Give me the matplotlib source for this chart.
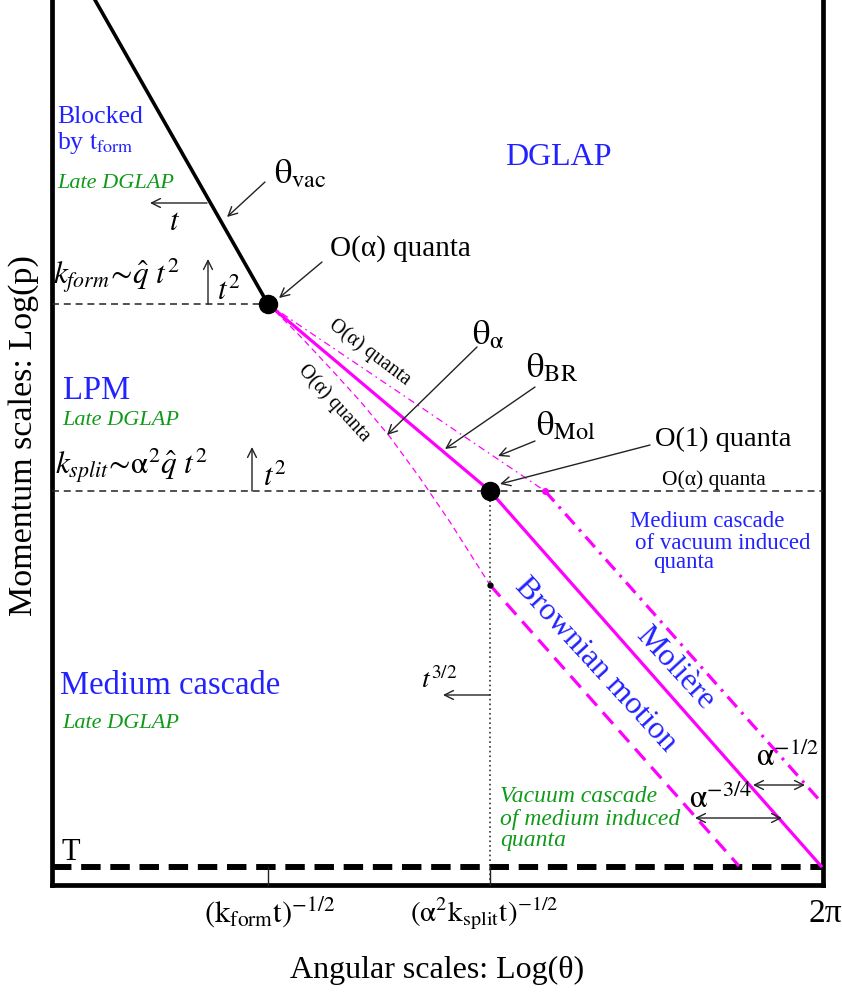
import matplotlib
matplotlib.use('Agg')
import matplotlib.pyplot as plt

plt.rcParams['font.family'] = ['Liberation Serif', 'DejaVu Serif']
plt.rcParams['mathtext.fontset'] = 'stix'
plt.rcParams['lines.scale_dashes'] = False

# ---------------- schematic geometry (pixel-like diagram units) ----------------
W, H = 842, 992
frame_left_x = 52
frame_right_x = 823
frame_bottom_y = 885
k_form_y = 304
k_split_y = 491
T_y = 867
theta_form_x = 268
theta_split_x = 490

vac_x = [95, 268]
vac_y = [0, 304]
br_x = [268, 490, 821]
br_y = [304, 491, 866]
alpha_thin_x = [268, 300, 330, 360, 390, 420, 450, 490]
alpha_thin_y = [304, 336, 368, 401, 437, 478, 522, 585]
alpha_thick_x = [490, 739]
alpha_thick_y = [585, 866]
mol_thin_x = [268, 545]
mol_thin_y = [304, 491]
mol_thick_x = [545, 822]
mol_thick_y = [491, 803]

tick_x = [270, 484, 825]
tick_labels = [r'$(\mathrm{k}_{\mathrm{form}}\mathrm{t})^{\mathrm{-1/2}}$',
               r'$(\mathrm{α}^{2}\mathrm{k}_{\mathrm{split}}\mathrm{t})^{\mathrm{-1/2}}$',
               '2π']
tick_sizes = [22, 21, 24]

MAG = '#ff00ff'
BLUE = '#2222ff'
GREEN = '#119a1a'
DK = '#222222'

fig = plt.figure(figsize=(8.42, 9.92), dpi=100)
ax = fig.add_axes([0, 0, 1, 1])
ax.set_xlim(0, W)
ax.set_ylim(H, 0)
ax.axis('off')

# frame
ax.plot([frame_left_x, frame_left_x], [0, frame_bottom_y], color='black', lw=3.4, solid_capstyle='projecting')
ax.plot([frame_right_x, frame_right_x], [0, frame_bottom_y], color='black', lw=3.4, solid_capstyle='projecting')
ax.plot([frame_left_x, frame_right_x], [frame_bottom_y, frame_bottom_y], color='black', lw=3.4, solid_capstyle='projecting')

# horizontal scale lines
ax.plot([frame_left_x, theta_form_x], [k_form_y, k_form_y], color=DK, lw=1.1, dashes=(5, 3.5))
ax.plot([frame_left_x, frame_right_x], [k_split_y, k_split_y], color=DK, lw=1.1, dashes=(5, 3.5))
ax.plot([frame_left_x, frame_right_x], [T_y, T_y], color='black', lw=4.3, dashes=(14, 7), solid_capstyle='butt')

# vertical dotted and ticks
ax.plot([theta_split_x, theta_split_x], [k_split_y, frame_bottom_y], color=DK, lw=1.1, dashes=(1.2, 2.2))
for tx in [theta_form_x, theta_split_x]:
    ax.plot([tx, tx], [T_y, frame_bottom_y], color=DK, lw=1.0)

# theta_vac line
ax.plot(vac_x, vac_y, color='black', lw=2.6)
# magenta lines
ax.plot(alpha_thin_x, alpha_thin_y, color=MAG, lw=0.9, dashes=(4.5, 3))
ax.plot(mol_thin_x, mol_thin_y, color=MAG, lw=0.9, dashes=(5, 3, 1.2, 3))
ax.plot(br_x, br_y, color=MAG, lw=2.3)
ax.plot(alpha_thick_x, alpha_thick_y, color=MAG, lw=2.3, dashes=(11, 6.5))
ax.plot(mol_thick_x, mol_thick_y, color=MAG, lw=2.3, dashes=(10, 5, 2, 5))

# dots
ax.plot([theta_form_x, theta_split_x], [k_form_y, k_split_y], 'o', color='black', ms=13)
ax.plot([alpha_thick_x[0]], [alpha_thick_y[0]], 'o', color='black', ms=3.5)
ax.plot([mol_thick_x[0]], [mol_thick_y[0]], 'o', color=MAG, ms=4)


def arrow(tail, tip, style='->'):
    ax.annotate('', xy=tip, xytext=tail,
                arrowprops=dict(arrowstyle=style, lw=1.0, color=DK,
                                mutation_scale=16, shrinkA=0, shrinkB=0))


def txt(x, y, s, size, color='black', style='normal', **kw):
    ax.text(x, y, s, fontsize=size, color=color, fontstyle=style,
            ha=kw.pop('ha', 'left'), va=kw.pop('va', 'baseline'), **kw)


# arrows
arrow((207, 203), (150, 203))
arrow((265, 182), (227, 217))
arrow((208, 304), (208, 259))
arrow((322, 262), (279, 298))
arrow((477, 347), (387, 435))
arrow((535, 387), (445, 449))
arrow((535, 441), (498, 456))
arrow((650, 445), (500, 484))
arrow((252, 491), (252, 447))
arrow((490, 695), (443, 695))
arrow((753, 785), (805, 785), '<->')
arrow((695, 818), (782, 818), '<->')

# region labels
txt(57, 123, 'Blocked', 18.5, BLUE)
txt(57, 149, r'by $\mathrm{t}_{\mathrm{form}}$', 18.5, BLUE)
txt(57, 188, 'Late DGLAP', 16, GREEN, 'italic')
txt(505, 165, 'DGLAP', 23, BLUE)
txt(63, 399, 'LPM', 23.5, BLUE)
txt(62, 425, 'Late DGLAP', 16, GREEN, 'italic')
txt(60, 694, 'Medium cascade', 23.5, BLUE)
txt(62, 728, 'Late DGLAP', 16, GREEN, 'italic')
txt(62, 860, 'T', 22)

# scale labels
txt(53, 285, r'$k_{form}\!\sim\!\hat{q}\ t^{2}$', 22.5)
txt(217, 300, r'$t^{2}$', 22)
txt(175, 230, r'$t$', 22, ha='center')
txt(55, 475, r'$k_{split}\!\sim\!\mathrm{α}^{2}\hat{q}\ t^{2}$', 22.5)
txt(263, 486, r'$t^{2}$', 22)
txt(421, 688, r'$t^{3/2}$', 20)

# theta labels
txt(274, 183, r'$\mathrm{θ}_{\mathrm{vac}}$', 25)
txt(330, 256, 'O(α) quanta', 21)
txt(472, 344, r'$\mathrm{θ}_{\mathrm{α}}$', 25)
txt(526, 377, r'$\mathrm{θ}_{\mathrm{BR}}$', 25)
txt(536, 435, r'$\mathrm{θ}_{\mathrm{Mol}}$', 25)
txt(655, 446, 'O(1) quanta', 20.5)
txt(662, 485, 'O(α) quanta', 15.5)

# rotated small labels
ax.text(370, 352, 'O(α) quanta', fontsize=14.5, rotation=-37, ha='center', va='center',
        rotation_mode='anchor')
ax.text(334, 403, 'O(α) quanta', fontsize=14.5, rotation=-47.5, ha='center', va='center',
        rotation_mode='anchor')

# medium cascade of vacuum induced quanta
txt(630, 527, 'Medium cascade', 16.5, BLUE)
txt(635, 549, 'of vacuum induced', 16.5, BLUE)
txt(653, 568, 'quanta', 16.5, BLUE)

# along-line labels
ax.text(595, 665, 'Brownian motion', fontsize=23, color=BLUE, rotation=-47.5,
        ha='center', va='center', rotation_mode='anchor')
ax.text(675, 668, 'Molière', fontsize=23, color=BLUE, rotation=-47.5,
        ha='center', va='center', rotation_mode='anchor')

# alpha powers
txt(756, 766, r'$\mathrm{α}^{-1/2}$', 23)
txt(689, 808, r'$\mathrm{α}^{-3/4}$', 23)

# vacuum cascade of medium induced quanta
txt(500, 802, 'Vacuum cascade', 17, GREEN, 'italic')
txt(500, 825, 'of medium induced', 17, GREEN, 'italic')
txt(500, 846, 'quanta', 17, GREEN, 'italic')

# axis tick labels and titles
for x, lab, sz in zip(tick_x, tick_labels, tick_sizes):
    ax.text(x, 922, lab, fontsize=sz, ha='center', va='baseline')
ax.text(437, 978, 'Angular scales: Log(θ)', fontsize=23, ha='center', va='baseline')
ax.text(24, 436, 'Momentum scales: Log(p)', fontsize=24.5, rotation=90, ha='center', va='center')

fig.savefig('out.png', dpi=100)
